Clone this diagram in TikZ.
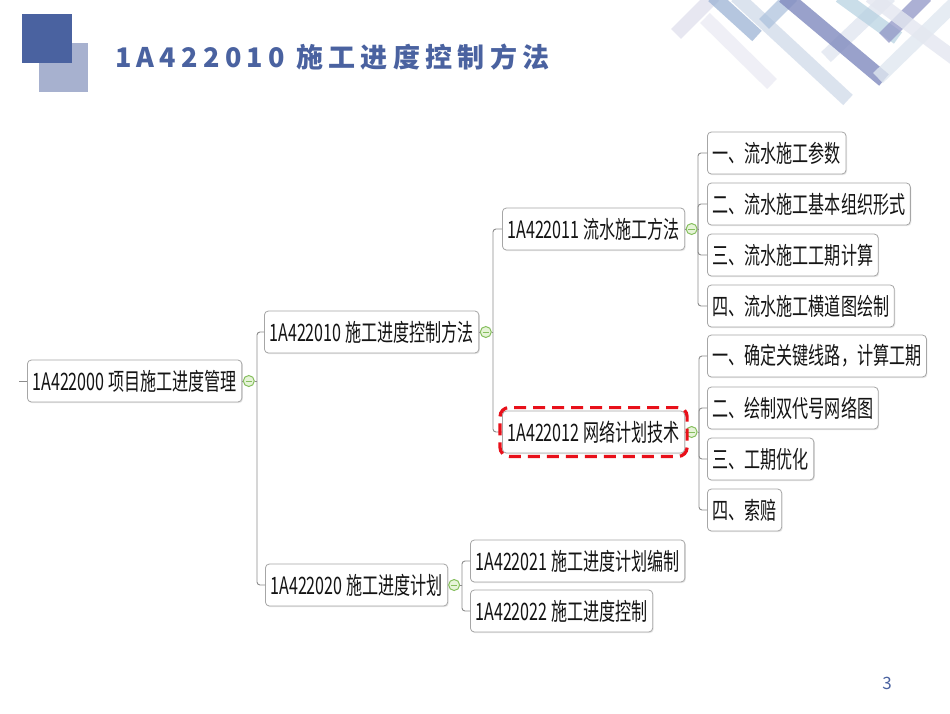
\documentclass[tikz,border=0pt]{standalone}
\usepackage{fontspec}
\usetikzlibrary{shadows,fit}
\newfontfamily\nodefont[FakeStretch=0.67]{Noto Sans CJK SC}
\newfontfamily\titlefont[LetterSpace=19.5]{Noto Sans CJK SC}
\newfontfamily\numfont{Noto Sans CJK SC}
\definecolor{deepblue}{HTML}{4A62A0}
\definecolor{paleblue}{HTML}{A7B1CF}
\definecolor{boxgray}{HTML}{A6A6A6}
\definecolor{linegray}{HTML}{8C8C8C}
\definecolor{textc}{HTML}{141414}
\definecolor{greenc}{HTML}{86BF5E}
\definecolor{greenf}{HTML}{E6F4D8}
\definecolor{hlred}{HTML}{E8101A}
\tikzset{
  mbox/.style={draw=boxgray, fill=white, rounded corners=4pt, line width=0.8pt,
    minimum height=42pt, inner xsep=5pt, inner ysep=0pt, anchor=west,
    font=\nodefont\fontsize{24}{28}\selectfont, text=textc,
    drop shadow={shadow xshift=1pt, shadow yshift=-1.2pt, opacity=0.18}},
  csign/.style={circle, draw=greenc, fill=greenf, minimum size=11pt, inner sep=0pt,
    line width=1pt,
    path picture={\draw[greenc, line width=1pt]
      ([xshift=-3.2pt]path picture bounding box.center) --
      ([xshift=3.2pt]path picture bounding box.center);}},
  conn/.style={draw=linegray, line width=0.9pt, rounded corners=3pt},
  hl/.style={draw=hlred, line width=3.2pt, dash pattern=on 12pt off 7pt,
    rounded corners=9pt, inner xsep=2pt, inner ysep=3pt},
  stripe/.style={line width=#1, line cap=butt},
}
\begin{document}
\begin{tikzpicture}[x=1pt,y=-1pt]
\useasboundingbox (0,0) rectangle (950,713);
\fill[white] (0,0) rectangle (950,713);
% decorative stripes top right
\begin{scope}
\clip (0,0) rectangle (950,713);
\draw[stripe=14pt, draw={rgb,255:red,226;green,226;blue,238}, opacity=0.8] (676,34) -- (714,-4);
\draw[stripe=14pt, draw={rgb,255:red,236;green,236;blue,244}, opacity=0.8] (705,18) -- (772,84);
\draw[stripe=14pt, draw={rgb,255:red,150;green,175;blue,210}, opacity=0.7] (713,-4) -- (757,36);
\draw[stripe=14pt, draw={rgb,255:red,205;green,216;blue,232}, opacity=0.7] (736,-4) -- (848,100);
\draw[stripe=14pt, draw={rgb,255:red,170;green,192;blue,220}, opacity=0.7] (764,24) -- (792,-4);
\draw[stripe=14pt, draw={rgb,255:red,225;green,230;blue,240}, opacity=0.8] (826,57) -- (890,-4);
\draw[stripe=15pt, draw={rgb,255:red,128;green,138;blue,190}, opacity=0.8] (784,-4) -- (884,80);
\draw[stripe=14pt, draw={rgb,255:red,175;green,205;blue,222}, opacity=0.65] (840,-4) -- (898,38);
\draw[stripe=14pt, draw={rgb,255:red,145;green,150;blue,198}, opacity=0.75] (884,38) -- (926,-4);
\draw[stripe=14pt, draw={rgb,255:red,224;green,232;blue,240}, opacity=0.8] (878,78) -- (954,4);
\draw[stripe=14pt, draw={rgb,255:red,228;green,231;blue,240}, opacity=0.8] (870,-4) -- (954,58);
\end{scope}
% title squares
\fill[paleblue] (39,43) rectangle (88,92);
\fill[deepblue] (22,14) rectangle (72,63);
\node[anchor=base west, inner sep=0pt, text=deepblue,
  font=\titlefont\bfseries\fontsize{27}{30}\selectfont] (title) at (115,67)
  {1A422010 施工进度控制方法};
% nodes
\node[mbox] (root) at (27,381) {1A422000 项目施工进度管理};
\node[mbox] (A) at (264,332) {1A422010 施工进度控制方法};
\node[mbox] (B) at (265,585) {1A422020 施工进度计划};
\node[mbox] (A1) at (502,229) {1A422011 流水施工方法};
\node[mbox] (A2) at (502,432) {1A422012 网络计划技术};
\node[mbox] (B1) at (470,561) {1A422021 施工进度计划编制};
\node[mbox] (B2) at (470,611) {1A422022 施工进度控制};
\node[mbox] (A1a) at (707,153) {一、流水施工参数};
\node[mbox] (A1b) at (707,204) {二、流水施工基本组织形式};
\node[mbox] (A1c) at (707,255) {三、流水施工工期计算};
\node[mbox] (A1d) at (707,306) {四、流水施工横道图绘制};
\node[mbox] (A2a) at (707,356) {一、确定关键线路，计算工期};
\node[mbox] (A2b) at (707,408) {二、绘制双代号网络图};
\node[mbox] (A2c) at (707,459) {三、工期优化};
\node[mbox] (A2d) at (707,510) {四、索赔};
% collapse signs
\node[csign] (rootc) at ([xshift=6.5pt]root.east) {};
\node[csign] (Ac) at ([xshift=6.5pt]A.east) {};
\node[csign] (Bc) at ([xshift=6pt]B.east) {};
\node[csign] (A1c0) at ([xshift=6.5pt]A1.east) {};
\node[csign] (A2c0) at ([xshift=6.5pt]A2.east) {};
% trunks
\coordinate (rt) at (257,381);
\coordinate (at) at (493,332);
\coordinate (bt) at (462,585);
\coordinate (a1t) at (698,229);
\coordinate (a2t) at (699,432);
\coordinate (stub) at (19,381);
% connectors
\draw[conn] (stub) -- (root);
\draw[conn] (root) -- (rootc);
\draw[conn] (rootc) -- (rt);
\draw[conn] (rt) |- (A);
\draw[conn] (rt) |- (B);
\draw[conn] (A) -- (Ac);
\draw[conn] (Ac) -- (at);
\draw[conn] (at) |- (A1);
\draw[conn] (at) |- (A2);
\draw[conn] (B) -- (Bc);
\draw[conn] (Bc) -- (bt);
\draw[conn] (bt) |- (B1);
\draw[conn] (bt) |- (B2);
\draw[conn] (A1) -- (A1c0);
\draw[conn] (A1c0) -- (a1t);
\draw[conn] (a1t) |- (A1a);
\draw[conn] (a1t) |- (A1b);
\draw[conn] (a1t) |- (A1c);
\draw[conn] (a1t) |- (A1d);
\draw[conn] (A2) -- (A2c0);
\draw[conn] (A2c0) -- (a2t);
\draw[conn] (a2t) |- (A2a);
\draw[conn] (a2t) |- (A2b);
\draw[conn] (a2t) |- (A2c);
\draw[conn] (a2t) |- (A2d);
% highlight
\node[hl, fit=(A2)] (hlbox) {};
% page number
\node[text=deepblue, font=\numfont\fontsize{17}{20}\selectfont, inner sep=0pt] (pnum) at (887,683) {3};
\end{tikzpicture}
\end{document}
